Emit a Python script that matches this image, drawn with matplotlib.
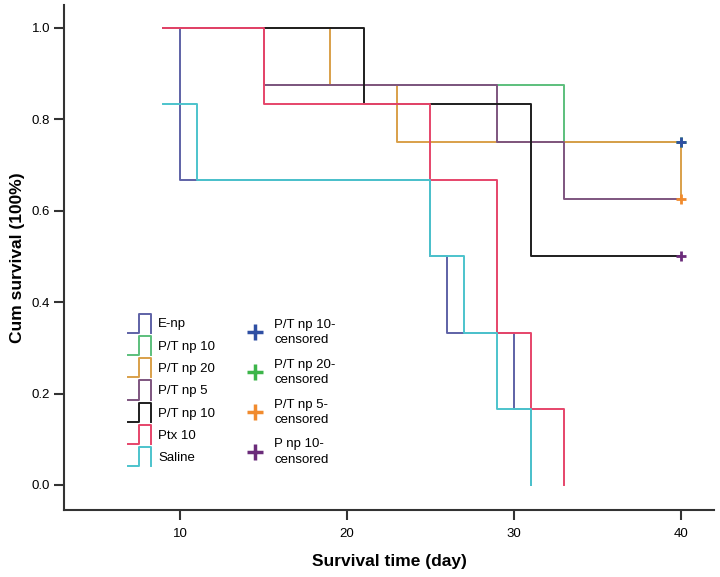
import matplotlib
matplotlib.use("Agg")
import matplotlib.pyplot as plt
from matplotlib.lines import Line2D
from matplotlib.legend_handler import HandlerBase

plt.rcParams['font.family'] = ['Liberation Sans', 'DejaVu Sans']

# Kaplan-Meier step data (time in days, cumulative survival)
enp_t = [9, 10, 25, 26, 30, 31]
enp_s = [1.0, 0.667, 0.5, 0.333, 0.167, 0.0]

pt10_t = [9, 15, 33, 40]
pt10_s = [1.0, 0.875, 0.75, 0.75]

pt20_t = [9, 19, 23, 40]
pt20_s = [1.0, 0.875, 0.75, 0.625]

pt5_t = [9, 15, 29, 33, 40]
pt5_s = [1.0, 0.875, 0.75, 0.625, 0.625]

ptb10_t = [9, 21, 31, 40]
ptb10_s = [1.0, 0.833, 0.5, 0.5]

ptx_t = [9, 15, 25, 29, 31, 33]
ptx_s = [1.0, 0.833, 0.667, 0.333, 0.167, 0.0]

sal_t = [9, 11, 25, 27, 29, 31]
sal_s = [0.833, 0.667, 0.5, 0.333, 0.167, 0.0]

series = [
    ("E-np", enp_t, enp_s, "#5e62a6"),
    ("P/T np 10", pt10_t, pt10_s, "#5cbf7c"),
    ("P/T np 20", pt20_t, pt20_s, "#d9a04a"),
    ("P/T np 5", pt5_t, pt5_s, "#7e557f"),
    ("P/T np 10", ptb10_t, ptb10_s, "#1e1e1e"),
    ("Ptx 10", ptx_t, ptx_s, "#e6456a"),
    ("Saline", sal_t, sal_s, "#4cc3cc"),
]

# censored points at the end of follow-up
cens_labels = ["P/T np 20-\ncensored", "P/T np 10-\ncensored", "P/T np 5-\ncensored", "P np 10-\ncensored"]
cens_t = [40, 40, 40, 40]
cens_s = [0.75, 0.75, 0.625, 0.5]
cens_colors = ["#3db54a", "#2f4fa3", "#f18b2e", "#6b2c7a"]
cens_order = [1, 0, 2, 3]  # legend order


class StepHandler(HandlerBase):
    def create_artists(self, legend, orig_handle, xdescent, ydescent,
                       width, height, fontsize, trans):
        x0, y0 = -xdescent, -ydescent
        xm = x0 + 0.48 * width
        xs = [x0, xm, xm, x0 + width, x0 + width]
        ys = [y0, y0, y0 + height, y0 + height, y0]
        ln = Line2D(xs, ys, color=orig_handle.get_color(),
                    lw=orig_handle.get_linewidth(), transform=trans)
        return [ln]


fig = plt.figure(figsize=(7.2, 5.77), dpi=100)
ax = fig.add_axes([64 / 720, 67 / 577, 650 / 720, 505 / 577])

lines = []
for name, t, s, c in series:
    ln, = ax.step(t, s, where='post', color=c, lw=1.4, label=name)
    lines.append(ln)

for t, s, c in zip(cens_t, cens_s, cens_colors):
    ax.plot(t, s, ls='none', marker='+', ms=7, mew=2, color=c)

ax.set_xlim(3.05, 41.98)
ax.set_ylim(-0.0547, 1.0496)
ax.set_xticks([10, 20, 30, 40])
ax.set_yticks([0.0, 0.2, 0.4, 0.6, 0.8, 1.0])
ax.set_yticklabels(["0.0", "0.2", "0.4", "0.6", "0.8", "1.0"])

for sp in ['top', 'right']:
    ax.spines[sp].set_visible(False)
for sp in ['left', 'bottom']:
    ax.spines[sp].set_linewidth(1.5)
    ax.spines[sp].set_color('#333333')
ax.tick_params(axis='both', length=7, width=1.5, color='#333333', labelsize=9.5)
ax.tick_params(axis='x', pad=6)
ax.tick_params(axis='y', pad=3)

ax.set_xlabel("Survival time (day)", fontsize=12.5, fontweight='bold')
ax.set_ylabel("Cum survival (100%)", fontsize=12.5, fontweight='bold')
ax.xaxis.set_label_coords(0.5, -0.088)
ax.yaxis.set_label_coords(-0.06, 0.5)

leg1 = ax.legend(handles=lines, handler_map={Line2D: StepHandler()},
                 loc='upper left', bbox_to_anchor=(0.0985, 0.389),
                 frameon=False, fontsize=9.5, handlelength=1.75,
                 handleheight=1.84, handletextpad=0.53, labelspacing=0.25,
                 borderpad=0, borderaxespad=0)
ax.add_artist(leg1)

cens_handles = [Line2D([], [], ls='none', marker='+', ms=11, mew=2.5,
                       color=cens_colors[i]) for i in cens_order]
leg2 = ax.legend(handles=cens_handles, labels=[cens_labels[i] for i in cens_order],
                 loc='upper left', bbox_to_anchor=(0.2837, 0.379),
                 frameon=False, fontsize=9.5, handlelength=1.0,
                 handletextpad=0.94, labelspacing=0.97, numpoints=1,
                 borderpad=0, borderaxespad=0)
for txt in leg2.get_texts():
    txt.set_linespacing(1.35)

fig.savefig("out.png", dpi=100)
